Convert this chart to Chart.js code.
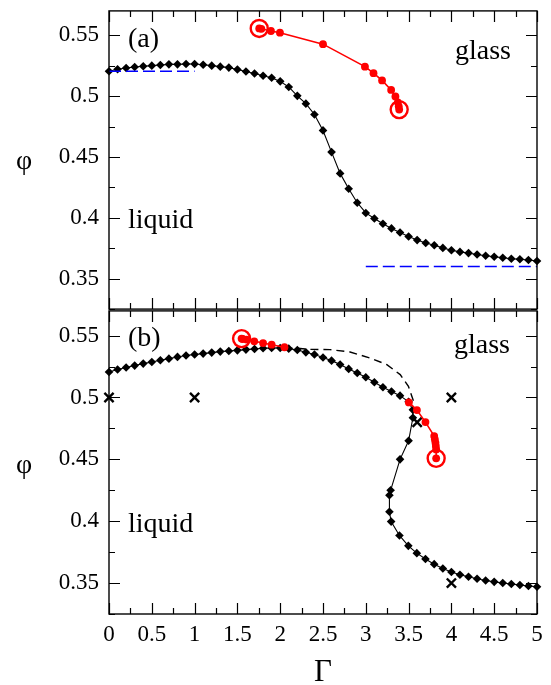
<!DOCTYPE html>
<html>
<head>
<meta charset="utf-8">
<script src="https://cdn.jsdelivr.net/npm/chart.js@4"></script>
<style>
  html, body { margin: 0; padding: 0; background: #fff; }
  #wrap { position: relative; width: 551px; height: 685px; }
  canvas { position: absolute; left: 0; }
  #chartA { top: 0; }
  #chartB { top: 300px; }
</style>
</head>
<body>
<div id="wrap">
  <canvas id="chartA" width="551" height="320"></canvas>
  <canvas id="chartB" width="551" height="385"></canvas>
</div>
<script>
// panel (a): black curve
const gammaA = [0, 0.1, 0.2, 0.3, 0.4, 0.5, 0.6, 0.7, 0.8, 0.9, 1.0, 1.1, 1.2, 1.3, 1.4, 1.5, 1.6, 1.7, 1.8, 1.9,
  2.0, 2.1, 2.2, 2.3, 2.4, 2.5, 2.6, 2.7, 2.8, 2.9, 3.0, 3.1, 3.2, 3.3, 3.4, 3.5, 3.6, 3.7, 3.8, 3.9,
  4.0, 4.1, 4.2, 4.3, 4.4, 4.5, 4.6, 4.7, 4.8, 4.9, 5.0];
const phiA = [0.5204, 0.5220, 0.5231, 0.5239, 0.5245, 0.5250, 0.5256, 0.5261, 0.5261, 0.5264, 0.5264, 0.5258, 0.5250, 0.5242, 0.5234, 0.5218, 0.5202, 0.5186, 0.5167, 0.5151,
  0.5121, 0.5075, 0.5002, 0.4938, 0.4849, 0.4718, 0.4540, 0.4365, 0.4239, 0.4124, 0.4040, 0.3994, 0.3951, 0.3913, 0.3879, 0.3847, 0.3817, 0.3793, 0.3774, 0.3753,
  0.3734, 0.3720, 0.3710, 0.3699, 0.3688, 0.3680, 0.3672, 0.3664, 0.3659, 0.3653, 0.3645];
// panel (a): red curve and its end circles
const redGammaA = [1.755, 1.78, 1.892, 1.997, 2.50, 2.99, 3.09, 3.19, 3.296, 3.346, 3.374, 3.385, 3.39];
const redPhiA = [0.5556, 0.5553, 0.5535, 0.5521, 0.5427, 0.5242, 0.5188, 0.5129, 0.5051, 0.4997, 0.4949, 0.4916, 0.4889];
const ringGammaA = [1.755, 3.39];
const ringPhiA = [0.5556, 0.4889];
// panel (a): blue dashed limits
const blueTopGamma = [0, 1.0];
const blueTopPhi = [0.5204, 0.5204];
const blueLowGamma = [3.0, 5.0];
const blueLowPhi = [0.36, 0.36];

// panel (b): black curve (re-entrant)
const gammaB = [0, 0.1, 0.2, 0.3, 0.4, 0.5, 0.6, 0.7, 0.8, 0.9, 1.0, 1.1, 1.2, 1.3, 1.4, 1.5, 1.6, 1.7, 1.8, 1.9,
  2.0, 2.1, 2.2, 2.3, 2.4, 2.5, 2.6, 2.7, 2.8, 2.9, 3.0, 3.1, 3.2, 3.3, 3.4, 3.5,
  3.55, 3.55, 3.50, 3.40, 3.29, 3.276, 3.276, 3.296, 3.393, 3.497, 3.596, 3.697, 3.799, 3.9,
  4.0, 4.1, 4.2, 4.3, 4.4, 4.5, 4.6, 4.7, 4.8, 4.9, 5.0];
const phiB = [0.5206, 0.5226, 0.5242, 0.5258, 0.5274, 0.5287, 0.5301, 0.5314, 0.5328, 0.5339, 0.5347, 0.5355, 0.5363, 0.5371, 0.5376, 0.5381, 0.5387, 0.5392, 0.5398, 0.5400,
  0.5400, 0.5395, 0.5384, 0.5365, 0.5347, 0.5323, 0.5298, 0.5266, 0.5231, 0.5198, 0.5164, 0.5123, 0.5083, 0.5048, 0.5015, 0.4965,
  0.4900, 0.4836, 0.4650, 0.4500, 0.4250, 0.4210, 0.4077, 0.3997, 0.3885, 0.3801, 0.3742, 0.3694, 0.3653, 0.3618,
  0.3589, 0.3567, 0.3551, 0.3535, 0.3521, 0.3510, 0.3500, 0.3492, 0.3484, 0.3476, 0.3470];
// panel (b): black dashed curve
const dashGammaB = [2.05, 2.2, 2.35, 2.582, 2.816, 3.05, 3.246, 3.402, 3.498, 3.56];
const dashPhiB = [0.5402, 0.5398, 0.5389, 0.5387, 0.5368, 0.5319, 0.5266, 0.5185, 0.5091, 0.4965];
// panel (b): red pieces and end circles
const redTopGammaB = [1.549, 1.561, 1.608, 1.697, 1.80, 1.90, 2.05];
const redTopPhiB = [0.5476, 0.5473, 0.5468, 0.5454, 0.5440, 0.5427, 0.5406];
const redLowGammaB = [3.503, 3.597, 3.697, 3.799, 3.807, 3.814, 3.818, 3.822, 3.822];
const redLowPhiB = [0.496, 0.4898, 0.4801, 0.4688, 0.4661, 0.4634, 0.4607, 0.458, 0.4508];
const ringGammaB = [1.549, 3.822];
const ringPhiB = [0.5476, 0.4508];
// panel (b): crosses
const crossGamma = [0, 1, 4, 3.6, 4];
const crossPhi = [0.5, 0.5, 0.5, 0.48, 0.35];

// axis ticks (minor every 0.25 / 0.025, labelled every 0.5 / 0.05)
const xTicks = [0, 0.25, 0.5, 0.75, 1, 1.25, 1.5, 1.75, 2, 2.25, 2.5, 2.75, 3, 3.25, 3.5, 3.75, 4, 4.25, 4.5, 4.75, 5];
const yTicks = [0.325, 0.35, 0.375, 0.4, 0.425, 0.45, 0.475, 0.5, 0.525, 0.55];
const xMin = 0, xMax = 5;
const yMin = 0.325, yMax = 0.57;

const pts = (xs, ys) => xs.map((x, i) => ({ x, y: ys[i] }));
const isMajor = (v, m) => Math.abs(v / m - Math.round(v / m)) < 1e-6;
const fmt = v => String(Math.round(v * 100) / 100);

Chart.defaults.font.family = '"Liberation Serif", serif';
Chart.defaults.font.size = 23;
Chart.defaults.color = '#000';

const RED = '#ff0000';

function lineSet(data, color, width, dash, point) {
  return Object.assign({
    data, showLine: true, borderColor: color, backgroundColor: color,
    borderWidth: width, borderDash: dash || [], pointRadius: 0, clip: false,
  }, point || {});
}

const panelTexts = {
  chartA: [
    { text: '(a)', x: 128, dy: 36 },
    { text: 'glass', x: 455, dy: 48 },
    { text: 'liquid', x: 128, dy: 217 },
    { text: 'φ', x: 24, dy: 158, align: 'center' },
  ],
  chartB: [
    { text: '(b)', x: 128, dy: 35 },
    { text: 'glass', x: 454, dy: 42 },
    { text: 'liquid', x: 128, dy: 221 },
    { text: 'φ', x: 24, dy: 162, align: 'center' },
    { text: 'Γ', x: 323, dy: 370, align: 'center', size: 31 },
  ],
};

// frame with inward ticks on all four sides, plus panel texts.
// tick positions come straight from the chart area span (same min/max as the scales)
const frameTicks = {
  id: 'frameTicks',
  afterDraw(chart) {
    const ctx = chart.ctx;
    const a = chart.chartArea;
    const L = a.left, R = a.right, T = a.top, B = a.bottom;
    const W = R - L, H = B - T;
    ctx.save();
    ctx.setTransform(1, 0, 0, 1, 0, 0);
    ctx.setLineDash([]);
    ctx.globalAlpha = 1;
    ctx.globalCompositeOperation = 'source-over';
    ctx.strokeStyle = '#000';
    ctx.lineWidth = 1.4;
    ctx.strokeRect(L, T, W, H);
    ctx.lineWidth = 1.2;
    for (const v of xTicks) {
      const px = Math.round(L + (v - xMin) / (xMax - xMin) * W) + 0.5;
      const len = isMajor(v, 0.5) ? 11 : 6;
      ctx.beginPath();
      ctx.moveTo(px, B); ctx.lineTo(px, B - len);
      ctx.moveTo(px, T); ctx.lineTo(px, T + len);
      ctx.stroke();
    }
    for (const v of yTicks) {
      const py = Math.round(B - (v - yMin) / (yMax - yMin) * H) + 0.5;
      const len = isMajor(v, 0.05) ? 11 : 6;
      ctx.beginPath();
      ctx.moveTo(L, py); ctx.lineTo(L + len, py);
      ctx.moveTo(R, py); ctx.lineTo(R - len, py);
      ctx.stroke();
    }

    ctx.fillStyle = '#000';
    ctx.textBaseline = 'alphabetic';
    for (const t of panelTexts[chart.canvas.id]) {
      ctx.font = (t.size || 28) + 'px "Liberation Serif", serif';
      ctx.textAlign = t.align || 'left';
      ctx.fillText(t.text, t.x, T + t.dy);
    }
    ctx.restore();
  }
};

function makeChart(id, datasets, top, xHeight, xLabels) {
  return new Chart(document.getElementById(id), {
    type: 'scatter',
    data: { datasets },
    plugins: [frameTicks],
    options: {
      responsive: false, animation: false, devicePixelRatio: 1,
      layout: { padding: { top, right: 14, left: 0, bottom: 0 } },
      plugins: { legend: { display: false }, tooltip: { enabled: false } },
      scales: {
        x: {
          type: 'linear', min: xMin, max: xMax,
          grid: { display: false, drawTicks: false }, border: { display: false },
          afterBuildTicks: s => { s.ticks = xTicks.map(v => ({ value: v })); },
          afterFit: s => { s.height = xHeight; s.paddingLeft = 0; s.paddingRight = 0; },
          ticks: {
            display: xLabels, autoSkip: false, maxRotation: 0, padding: 7,
            callback: v => isMajor(v, 0.5) ? fmt(v) : '',
          },
        },
        y: {
          type: 'linear', min: yMin, max: yMax,
          grid: { display: false, drawTicks: false }, border: { display: false },
          afterBuildTicks: s => { s.ticks = yTicks.map(v => ({ value: v })); },
          afterFit: s => { s.width = 109; s.paddingTop = 0; s.paddingBottom = 0; },
          ticks: { autoSkip: false, padding: 10, callback: v => isMajor(v, 0.05) ? fmt(v) : '' },
        },
      },
    },
  });
}

const diamond = { pointStyle: 'rectRot', pointRadius: 4.3, pointBackgroundColor: '#000', pointBorderColor: '#000', pointBorderWidth: 0 };
const dot = { pointStyle: 'circle', pointRadius: 3.9, pointBackgroundColor: RED, pointBorderColor: RED, pointBorderWidth: 0 };
const ring = { showLine: false, pointStyle: 'circle', pointRadius: 8.5, pointBackgroundColor: 'rgba(0,0,0,0)', pointBorderColor: RED, pointBorderWidth: 2.4, clip: false };

makeChart('chartA', [
  Object.assign({ data: pts(ringGammaA, ringPhiA) }, ring),
  lineSet(pts(redGammaA, redPhiA), RED, 1.6, null, dot),
  lineSet(pts(blueTopGamma, blueTopPhi), '#0000ff', 1.6, [12, 5]),
  lineSet(pts(blueLowGamma, blueLowPhi), '#0000ff', 1.6, [12, 5]),
  lineSet(pts(gammaA, phiA), '#000', 1.1, null, diamond),
], 5, 10, false);

makeChart('chartB', [
  Object.assign({ data: pts(ringGammaB, ringPhiB) }, ring),
  lineSet(pts(redTopGammaB, redTopPhiB), RED, 1.6, null, dot),
  lineSet(pts(redLowGammaB, redLowPhiB), RED, 1.6, null, dot),
  { data: pts(crossGamma, crossPhi), showLine: false, pointStyle: 'crossRot', pointRadius: 6.5, pointBorderColor: '#000', pointBorderWidth: 2.4, clip: false },
  lineSet(pts(dashGammaB, dashPhiB), '#000', 1.4, [8, 5]),
  lineSet(pts(gammaB, phiB), '#000', 1.1, null, diamond),
], 10, 71, true);
</script>
</body>
</html>
